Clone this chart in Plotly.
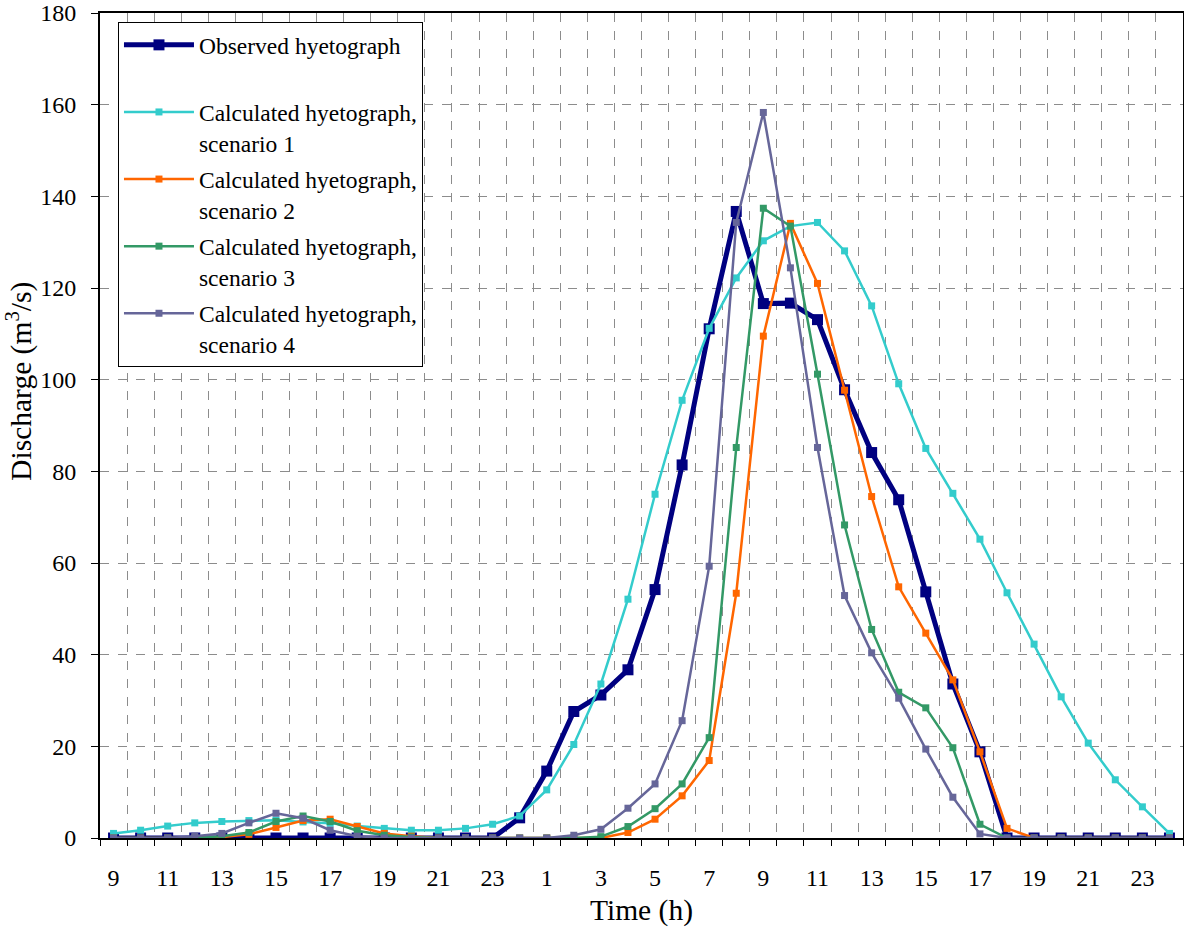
import plotly.graph_objects as go

# Hour labels: day 1 from 9 h to 24 h, day 2 from 1 h to 24 h
time_labels = [str(h) for h in range(9, 25)] + [str(h) for h in range(1, 25)]

observed = [0, 0, 0, 0, 0, 0, 0, 0, 0, 0, 0, 0, 0, 0, 0,
            4.4, 14.6, 27.6, 31.2, 36.7, 54.2, 81.4, 111.1, 136.7, 116.6,
            116.7, 113.1, 97.8, 84.1, 73.8, 53.7, 33.6, 18.8,
            0, 0, 0, 0, 0, 0, 0]

scenario1 = [1.0, 1.7, 2.6, 3.3, 3.6, 3.8, 3.9, 3.5, 3.2, 2.6,
             2.1, 1.7, 1.7, 2.1, 3.0, 4.8, 10.5, 20.4, 33.6, 52.1,
             75.0, 95.5, 111.2, 122.2, 130.3, 133.5, 134.3, 128.1, 116.1, 99.1,
             85.0, 75.2, 65.2, 53.5, 42.3, 30.8, 20.7, 12.7, 6.8, 1.0]

scenario2 = [0, 0, 0, 0, 0.2, 0.8, 2.3, 3.8, 4.1, 2.5,
             1.0, 0.4, 0, 0, 0, 0, 0, 0, 0, 1.2,
             4.1, 9.2, 16.9, 53.4, 109.5, 134.1, 121.0, 97.7, 74.5, 54.8,
             44.7, 34.5, 18.8, 2.1, 0, 0, 0, 0, 0, 0]

scenario3 = [0, 0, 0, 0, 0.4, 1.2, 3.6, 4.8, 3.6, 1.6,
             0.6, 0.2, 0, 0, 0, 0, 0, 0, 0.3, 2.5,
             6.4, 11.8, 21.9, 85.2, 137.4, 133.5, 101.2, 68.3, 45.5, 31.8,
             28.4, 19.7, 3.0, 0, 0, 0, 0, 0, 0, 0]

scenario4 = [0, 0, 0, 0.4, 1.0, 3.3, 5.4, 4.3, 1.7, 0.4,
             0, 0, 0, 0, 0, 0, 0, 0.6, 1.9, 6.5,
             11.8, 25.6, 59.3, 134.3, 158.3, 124.4, 85.2, 52.9, 40.4, 30.5,
             19.4, 8.9, 0.9, 0, 0, 0, 0, 0, 0, 0]

series_names = ["Observed hyetograph<br> ",
                "Calculated hyetograph,<br>scenario 1",
                "Calculated hyetograph,<br>scenario 2",
                "Calculated hyetograph,<br>scenario 3",
                "Calculated hyetograph,<br>scenario 4"]
series_values = [observed, scenario1, scenario2, scenario3, scenario4]
colors = ["#000080", "#33CCCC", "#FF6600", "#339966", "#666699"]
line_widths = [5, 2.5, 2.5, 2.5, 2.5]
marker_sizes = [11, 7, 7, 7, 7]

x = list(range(len(time_labels)))

FONT = "Liberation Serif, Times New Roman, serif"

fig = go.Figure()
for i, (name, vals) in enumerate(zip(series_names, series_values)):
    fig.add_trace(go.Scatter(
        x=x, y=vals, name=name, mode="lines+markers",
        legendgroup=f"g{i}",
        line=dict(color=colors[i], width=line_widths[i]),
        marker=dict(symbol="square", size=marker_sizes[i], color=colors[i],
                    line=dict(width=0)),
    ))

fig.add_annotation(
    text="Discharge (m<sup>3</sup>/s)", textangle=-90,
    xref="paper", yref="paper", x=-0.074, y=0.554,
    xanchor="center", yanchor="middle", showarrow=False,
    font=dict(family=FONT, size=29.5, color="black"),
)

fig.update_layout(
    width=1184, height=927,
    margin=dict(l=100, r=1, t=13, b=89, autoexpand=False),
    paper_bgcolor="white", plot_bgcolor="white",
    font=dict(family=FONT, size=24, color="black"),
    showlegend=True,
    legend=dict(x=0.0166, y=0.989, xanchor="left", yanchor="top",
                bgcolor="white", bordercolor="black", borderwidth=1,
                font=dict(family=FONT, size=23.5), valign="top",
                tracegroupgap=3, itemwidth=70),
    xaxis=dict(
        range=[-0.5, len(time_labels) - 0.5],
        tickmode="array", tickvals=x[::2], ticktext=time_labels[::2],
        ticks="outside", ticklen=17, tickcolor="rgba(0,0,0,0)",
        showgrid=False, zeroline=False, automargin=False,
        showline=True, linecolor="black", linewidth=2, mirror=True,
        minor=dict(tick0=-0.5, dtick=1, ticks="outside", ticklen=6,
                   tickcolor="black", tickwidth=1,
                   showgrid=True, gridcolor="#8c8c8c", griddash="dash",
                   gridwidth=1),
        title=dict(text="Time (h)", font=dict(family=FONT, size=29.5), standoff=17),
    ),
    yaxis=dict(
        range=[0, 180], dtick=20, tick0=0,
        ticks="outside", ticklen=7, tickcolor="black", tickwidth=1,
        showgrid=True, gridcolor="#8c8c8c", griddash="dash", gridwidth=1,
        zeroline=False, automargin=False, ticklabeloverflow="allow",
        showline=True, linecolor="black", linewidth=2, mirror=True,
        ticklabelstandoff=10,
    ),
)

fig.write_html("out.html",
               config={"displayModeBar": False},
               post_script="document.body.style.margin='0px';"
                           "document.body.style.overflow='hidden';")
